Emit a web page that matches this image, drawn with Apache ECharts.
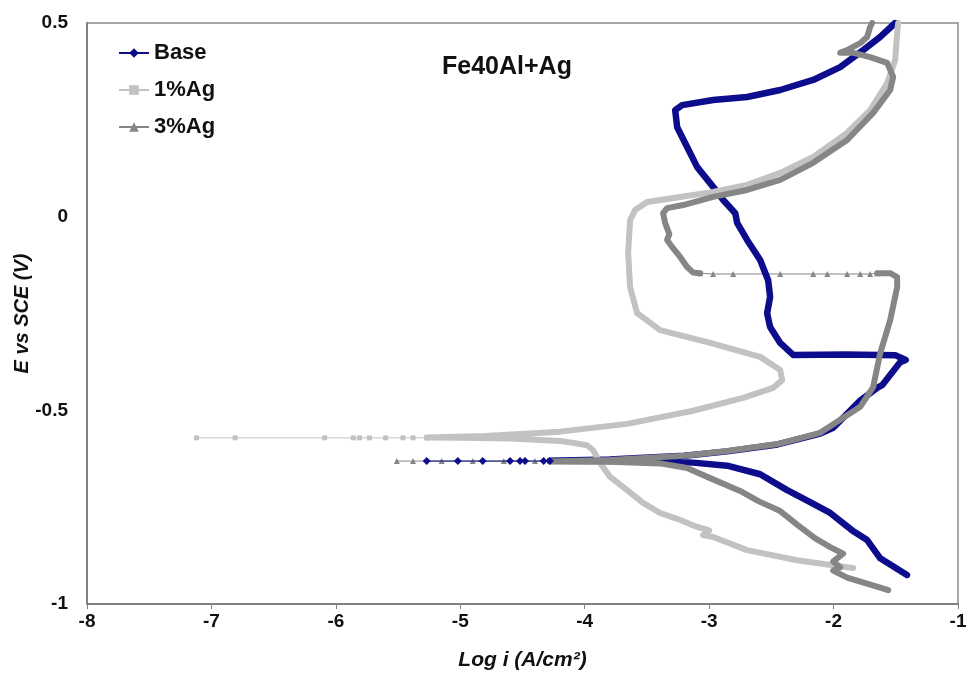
<!DOCTYPE html>
<html>
<head>
<meta charset="utf-8">
<script src="https://cdn.jsdelivr.net/npm/echarts@6/dist/echarts.min.js"></script>
<style>
html,body{margin:0;padding:0;background:#fff;}
#chart{width:966px;height:673px;}
</style>
</head>
<body>
<div id="chart"></div>
<script>
// ---- data (x = log i, y = E vs SCE) ----
const seriesNames = ['Base', '1%Ag', '3%Ag'];
const chartTitle = 'Fe40Al+Ag';
const xTickLabels = ['-8', '-7', '-6', '-5', '-4', '-3', '-2', '-1'];
const yTickLabels = ['-1', '-0.5', '0', '0.5'];

const baseTail = [[-5.27,-0.631],[-5.02,-0.631],[-4.82,-0.631],[-4.60,-0.631],[-4.52,-0.631],[-4.48,-0.631],[-4.33,-0.631],[-4.28,-0.631]];
const baseMain = [
  [-1.41,-0.925],[-1.625,-0.882],[-1.73,-0.835],[-1.85,-0.81],[-2.027,-0.765],[-2.2,-0.735],[-2.373,-0.706],
  [-2.59,-0.665],[-2.855,-0.643],[-3.129,-0.635],[-3.314,-0.633],[-3.8,-0.631],[-4.28,-0.630],
  [-3.8,-0.627],[-3.2,-0.617],[-2.855,-0.606],[-2.45,-0.588],[-2.108,-0.56],[-2.003,-0.545],
  [-1.786,-0.475],[-1.65,-0.442],[-1.61,-0.435],[-1.465,-0.376],[-1.42,-0.37],[-1.5,-0.358],
  [-1.9,-0.356],[-2.325,-0.357],[-2.429,-0.326],[-2.51,-0.285],[-2.534,-0.249],[-2.51,-0.207],
  [-2.526,-0.164],[-2.59,-0.112],[-2.695,-0.06],[-2.775,-0.016],[-2.79,0.009],[-2.887,0.043],
  [-2.968,0.077],[-3.096,0.128],[-3.177,0.18],[-3.257,0.231],[-3.273,0.275],[-3.217,0.288],
  [-2.968,0.301],[-2.695,0.309],[-2.429,0.327],[-2.164,0.353],[-1.947,0.386],[-1.762,0.430],
  [-1.625,0.464],[-1.505,0.5]
];

const ag1Tail = [[-7.12,-0.571],[-6.81,-0.571],[-6.09,-0.571],[-5.86,-0.571],[-5.81,-0.571],[-5.73,-0.571],[-5.60,-0.571],[-5.46,-0.571],[-5.38,-0.571],[-5.27,-0.571]];
const ag1Main = [
  [-1.842,-0.907],[-1.891,-0.905],[-2.293,-0.887],[-2.695,-0.861],[-2.968,-0.827],[-3.05,-0.822],
  [-3.0,-0.81],[-3.096,-0.801],[-3.233,-0.783],[-3.394,-0.765],[-3.531,-0.739],[-3.659,-0.706],
  [-3.796,-0.672],[-3.876,-0.636],[-3.932,-0.603],[-3.981,-0.590],[-4.093,-0.584],[-4.198,-0.579],
  [-4.6,-0.573],[-5.0,-0.571],[-5.27,-0.570],[-4.8,-0.566],[-4.198,-0.555],[-3.659,-0.535],
  [-3.129,-0.501],[-2.727,-0.468],[-2.486,-0.442],[-2.413,-0.422],[-2.429,-0.396],[-2.59,-0.362],
  [-2.992,-0.326],[-3.394,-0.293],[-3.579,-0.249],[-3.635,-0.182],[-3.651,-0.094],[-3.635,-0.009],
  [-3.595,0.017],[-3.498,0.038],[-3.233,0.051],[-2.968,0.064],[-2.695,0.082],[-2.429,0.113],
  [-2.164,0.154],[-1.891,0.216],[-1.706,0.275],[-1.569,0.345],[-1.505,0.404],[-1.489,0.474],[-1.481,0.5]
];

const ag3Tail = [[-5.51,-0.631],[-5.38,-0.631],[-5.15,-0.631],[-4.9,-0.631],[-4.65,-0.631],[-4.4,-0.631],[-4.28,-0.631]];
const ag3Lower = [
  [-1.561,-0.964],[-1.625,-0.958],[-1.891,-0.932],[-2.003,-0.914],[-1.947,-0.905],[-2.003,-0.89],
  [-1.923,-0.87],[-2.027,-0.853],[-2.15,-0.83],[-2.293,-0.795],[-2.429,-0.76],[-2.6,-0.735],
  [-2.751,-0.708],[-2.992,-0.675],[-3.177,-0.649],[-3.394,-0.637],[-3.8,-0.633],[-4.28,-0.632],
  [-3.8,-0.628],[-3.2,-0.617],[-2.855,-0.605],[-2.45,-0.587],[-2.108,-0.558],[-1.786,-0.491],
  [-1.682,-0.44],[-1.625,-0.352],[-1.545,-0.267],[-1.489,-0.182],[-1.489,-0.156],[-1.545,-0.146],[-1.65,-0.146]
];
const ag3Step = [[-1.65,-0.146],[-1.706,-0.148],[-1.786,-0.148],[-1.891,-0.148],[-2.051,-0.148],[-2.164,-0.148],[-2.429,-0.148],[-2.807,-0.148],[-2.968,-0.148],[-3.072,-0.146]];
const ag3Upper = [
  [-3.072,-0.146],[-3.129,-0.144],[-3.177,-0.130],[-3.233,-0.104],[-3.298,-0.078],[-3.338,-0.06],
  [-3.32,-0.045],[-3.354,-0.016],[-3.37,0.009],[-3.338,0.022],[-3.209,0.030],[-2.968,0.051],
  [-2.695,0.069],[-2.429,0.095],[-2.164,0.139],[-1.891,0.198],[-1.682,0.268],[-1.545,0.327],
  [-1.521,0.361],[-1.569,0.397],[-1.706,0.412],[-1.842,0.423],[-1.947,0.423],[-1.891,0.43],
  [-1.786,0.448],[-1.73,0.464],[-1.706,0.49],[-1.69,0.5]
];

// ---- styles ----
const colBase = '#0c0c8c';
const colAg1 = '#c2c2c2';
const colAg3 = '#868686';
const FONT = '"Liberation Sans", Arial, sans-serif';

function thin(name, data, color, symbol, size, z) {
  return { name, type: 'line', data, symbol, symbolSize: size, showSymbol: true,
    lineStyle: { color, width: 1 }, itemStyle: { color }, z: z || 2, animation: false };
}
function thick(name, data, color, w) {
  return { name, type: 'line', data, showSymbol: false, symbol: 'none',
    lineStyle: { color, width: w, join: 'round', cap: 'round' }, itemStyle: { color }, animation: false };
}

const chart = echarts.init(document.getElementById('chart'), null, { renderer: 'canvas' });
chart.setOption({
  backgroundColor: '#fff',
  animation: false,
  textStyle: { fontFamily: FONT },
  title: { text: chartTitle, left: 437, top: 50,
    textStyle: { fontFamily: FONT, fontSize: 25, fontWeight: 'bold', color: '#111' } },
  legend: {
    data: seriesNames, orient: 'vertical', left: 113, top: 37, itemGap: 15,
    itemWidth: 30, itemHeight: 12,
    textStyle: { fontFamily: FONT, fontSize: 22, lineHeight: 22, fontWeight: 'bold', color: '#111' }
  },
  grid: { left: 87, right: 8, top: 23, bottom: 69, outerBoundsMode: 'none', containLabel: false,
    show: true, borderColor: '#8a8a8a', borderWidth: 1.5 },
  xAxis: {
    type: 'value', min: -8, max: -1, interval: 1,
    name: 'Log i (A/cm²)', nameLocation: 'middle', nameGap: 46, nameMoveOverlap: false,
    nameTextStyle: { fontFamily: FONT, fontSize: 21, fontWeight: 'bold', fontStyle: 'italic', color: '#111' },
    axisLine: { onZero: false, lineStyle: { color: '#808080', width: 2 } },
    axisTick: { show: true, length: 5, inside: false, lineStyle: { color: '#808080' } },
    splitLine: { show: false },
    axisLabel: { margin: 8, fontSize: 19, fontWeight: 'bold', color: '#111', fontFamily: FONT,
      formatter: v => xTickLabels[Math.round(v + 8)] }
  },
  yAxis: {
    type: 'value', min: -1, max: 0.5, interval: 0.5,
    name: 'E vs SCE (V)', nameLocation: 'middle', nameGap: 55, nameMoveOverlap: false,
    nameTextStyle: { fontFamily: FONT, fontSize: 20, fontWeight: 'bold', fontStyle: 'italic', color: '#111' },
    axisLine: { show: true, onZero: false, lineStyle: { color: '#808080', width: 2 } },
    axisTick: { show: false },
    splitLine: { show: false },
    axisLabel: { margin: 19, fontSize: 19, fontWeight: 'bold', color: '#111', fontFamily: FONT,
      formatter: v => yTickLabels[Math.round((v + 1) * 2)] }
  },
  series: [
    thin('Base', baseTail, colBase, 'diamond', 8, 3),
    thick('Base', baseMain, colBase, 6.5),
    thin('1%Ag', ag1Tail, colAg1, 'rect', 5),
    thick('1%Ag', ag1Main, colAg1, 6),
    thin('3%Ag', ag3Tail, colAg3, 'triangle', 6, 1),
    thin('3%Ag', ag3Step, colAg3, 'triangle', 6),
    thick('3%Ag', ag3Lower, colAg3, 6),
    thick('3%Ag', ag3Upper, colAg3, 6)
  ]
});
</script>
</body>
</html>
